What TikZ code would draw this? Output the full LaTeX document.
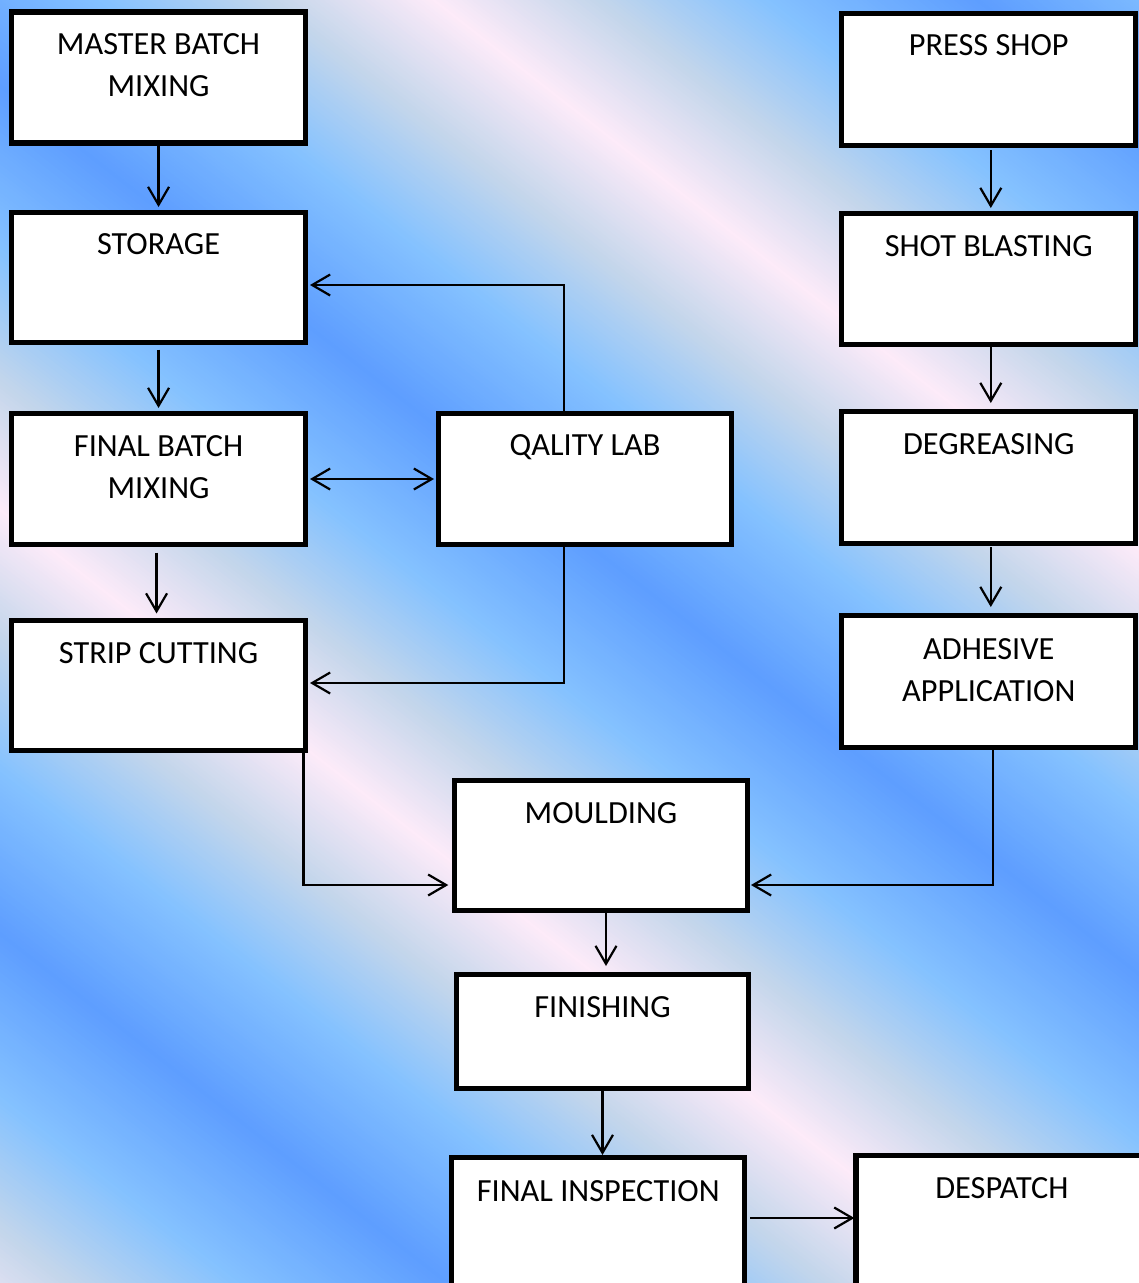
\documentclass[tikz,border=0pt]{standalone}
\usepackage{fontspec}
\setmainfont{Carlito}
\usetikzlibrary{arrows.meta,calc}
\definecolor{bgD}{RGB}{94,158,255}
\definecolor{bgL}{RGB}{133,194,255}
\definecolor{bgG}{RGB}{196,214,235}
\definecolor{bgP}{RGB}{253,235,249}
\begin{document}
\begin{tikzpicture}[x=1pt,y=-1pt,
  box/.style={draw=black, line width=5.2pt, fill=white, inner sep=0pt, outer sep=0pt},
  lbl/.style={font=\fontsize{32.3}{42}\selectfont, align=center, inner sep=0pt, anchor=base, text=black},
  arr/.style={draw=black, line width=2.2pt, -{Straight Barb[length=18pt,width=21pt]}},
  dblarr/.style={draw=black, line width=2.2pt, {Straight Barb[length=18pt,width=21pt]}-{Straight Barb[length=18pt,width=21pt]}}]
\useasboundingbox (0,0) rectangle (1139,1283);
\clip (0,0) rectangle (1139,1283);
% background: repeated diagonal gradient
\foreach \c in {-904,-900,...,1300}{
  \pgfmathsetmacro{\t}{mod(\c+8480-84,848)}
  \pgfmathsetmacro{\f}{min(\t,848-\t)/424}
  \pgfmathtruncatemacro{\seg}{(\f<0.39) ? 0 : ((\f<0.7) ? 1 : 2)}
  \ifcase\seg
    \pgfmathtruncatemacro{\p}{100*\f/0.39}\colorlet{bgc}{bgL!\p!bgD}
  \or
    \pgfmathtruncatemacro{\p}{100*(\f-0.39)/0.31}\colorlet{bgc}{bgG!\p!bgL}
  \else
    \pgfmathtruncatemacro{\p}{min(100,100*(\f-0.7)/0.3)}\colorlet{bgc}{bgP!\p!bgG}
  \fi
  \fill[bgc] (-5,{0.78*(-5)+(\c)}) -- (1145,{0.78*1145+(\c)}) -- (1145,{0.78*1145+(\c)+4.8}) -- (-5,{0.78*(-5)+(\c)+4.8}) -- cycle;
}
% boxes
\node[box, minimum width=293.5pt, minimum height=131pt] (ms) at (158.55,77.5) {};
\node[box, minimum width=293.5pt, minimum height=130pt] (st) at (158.55,277.5) {};
\node[box, minimum width=293.5pt, minimum height=131pt] (fb) at (158.55,479) {};
\node[box, minimum width=293.5pt, minimum height=130pt] (sc) at (158.55,685.5) {};
\node[box, minimum width=293pt, minimum height=131pt] (ql) at (585,479) {};
\node[box, minimum width=293pt, minimum height=130pt] (mo) at (601,845.5) {};
\node[box, minimum width=292pt, minimum height=114pt] (fi) at (602.5,1031.5) {};
\node[box, minimum width=293pt, minimum height=132.5pt] (fins) at (598.3,1223.75) {};
\node[box, minimum width=292pt, minimum height=135pt] (de) at (1001.9,1222.6) {};
\node[box, minimum width=294pt, minimum height=131.7pt] (ps) at (988.8,79.35) {};
\node[box, minimum width=294pt, minimum height=131.6pt] (sb) at (988.8,279) {};
\node[box, minimum width=294pt, minimum height=131.7pt] (dg) at (988.8,477.65) {};
\node[box, minimum width=294pt, minimum height=132.3pt] (ad) at (988.8,681.35) {};
% labels (base anchor of a two-line label is its last baseline)
\node[lbl] (tms) at ([yshift=-84pt]ms.north) {MASTER BATCH\\MIXING};
\node[lbl] (tst) at ([yshift=-42pt]st.north) {STORAGE};
\node[lbl] (tfb) at ([yshift=-85pt]fb.north) {FINAL BATCH\\MIXING};
\node[lbl] (tsc) at ([yshift=-43pt]sc.north) {STRIP CUTTING};
\node[lbl] (tql) at ([yshift=-42pt]ql.north) {QALITY LAB};
\node[lbl] (tmo) at ([yshift=-43pt]mo.north) {MOULDING};
\node[lbl] (tfi) at ([yshift=-43pt]fi.north) {FINISHING};
\node[lbl] (tfins) at ([yshift=-43.5pt]fins.north) {FINAL INSPECTION};
\node[lbl] (tde) at ([yshift=-43.5pt]de.north) {DESPATCH};
\node[lbl] (tps) at ([yshift=-42pt]ps.north) {PRESS SHOP};
\node[lbl] (tsb) at ([yshift=-43pt]sb.north) {SHOT BLASTING};
\node[lbl] (tdg) at ([yshift=-43pt]dg.north) {DEGREASING};
\node[lbl] (tad) at ([yshift=-86pt]ad.north) {ADHESIVE\\APPLICATION};
% connectors
\draw[arr, shorten >=5.5pt] (ms.south) -- (st.north);
\draw[arr, shorten <=7pt, shorten >=5.5pt] (st.south) -- (fb.north);
\draw[arr, shorten <=8pt, shorten >=7pt] ([xshift=-2pt]fb.south) -- ([xshift=-2pt]sc.north);
\draw[arr, shorten >=4.7pt] ([xshift=-21pt]ql.north) |- ([yshift=-7.5pt]st.east);
\draw[dblarr, shorten <=4.7pt, shorten >=4.5pt] (fb.east) -- (ql.west);
\draw[arr, shorten >=4.7pt] ([xshift=-21pt]ql.south) |- ([yshift=2.5pt]sc.east);
\draw[arr, shorten >=6.2pt] ([xshift=-1.8pt]sc.south east) |- ([yshift=-39.5pt]mo.west);
\draw[arr, shorten >=3.5pt] ([xshift=4.2pt]ad.south) |- ([yshift=-39.5pt]mo.east);
\draw[arr, shorten >=8.5pt] ([xshift=5pt]mo.south) -- ([xshift=3.5pt]fi.north);
\draw[arr, shorten >=2.5pt] (fi.south) -- (fi.south |- fins.north);
\draw[arr, shorten <=4.8pt, shorten >=5.2pt] ([xshift=2pt]ps.south) -- ([xshift=2pt]sb.north);
\draw[arr, shorten <=2pt, shorten >=8.8pt] ([xshift=2pt]sb.south) -- ([xshift=2pt]dg.north);
\draw[arr, shorten <=3.5pt, shorten >=8.2pt] ([xshift=2pt]dg.south) -- ([xshift=2pt]ad.north);
\draw[arr, shorten <=5.2pt, shorten >=1.5pt] ([yshift=5.75pt]fins.east) -- ([yshift=4.6pt]de.west);
\end{tikzpicture}
\end{document}
